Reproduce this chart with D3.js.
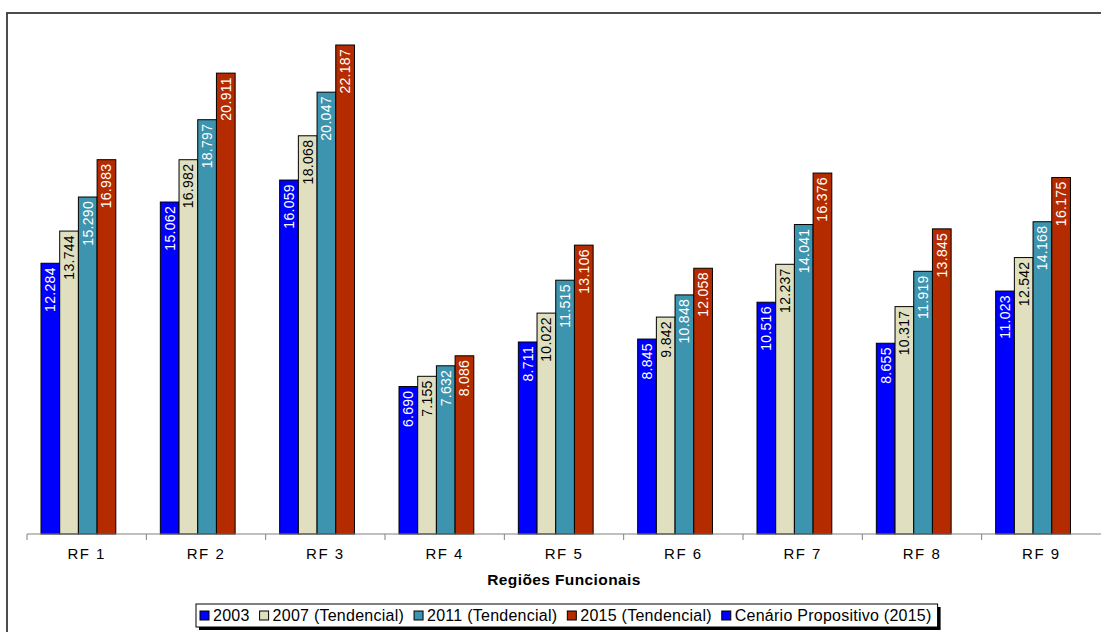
<!DOCTYPE html>
<html>
<head>
<meta charset="utf-8">
<script src="https://cdn.jsdelivr.net/npm/d3@7"></script>
<style>
  body { margin: 0; background: #fff; }
  svg { display: block; font-family: Arial, "Liberation Sans", sans-serif; }
</style>
</head>
<body>
<svg id="chart"></svg>
<script>
let w = 1101;
let h = 632;
let svg = d3.select("#chart");

let regions = ["RF 1", "RF 2", "RF 3", "RF 4", "RF 5", "RF 6", "RF 7", "RF 8", "RF 9"];
let seriesNames = ["2003", "2007 (Tendencial)", "2011 (Tendencial)", "2015 (Tendencial)", "Cenário Propositivo (2015)"];
let v2003 = [12.284, 15.062, 16.059, 6.690, 8.711, 8.845, 10.516, 8.655, 11.023];
let v2007 = [13.744, 16.982, 18.068, 7.155, 10.022, 9.842, 12.237, 10.317, 12.542];
let v2011 = [15.290, 18.797, 20.047, 7.632, 11.515, 10.848, 14.041, 11.919, 14.168];
let v2015 = [16.983, 20.911, 22.187, 8.086, 13.106, 12.058, 16.376, 13.845, 16.175];
let vCenario = [];  // no values in the picture
let colors = ["#0000ff", "#e0e0c0", "#3c94ae", "#b52b00", "#0000ff"];
let labelColors = ["#fff", "#000", "#fff", "#fff", "#fff"];

let seriesValues = [v2003, v2007, v2011, v2015, vCenario];

let values = [];
seriesValues.forEach((arr, s) => {
    arr.forEach((v, i) => values.push({ region: regions[i], series: seriesNames[s], s: s, value: v }));
});

let baseY = 534;
let x0, x1, yScale;

let drawCanvas = () => {
    svg.attr("width", w).attr("height", h);
    // outer frame (runs off the right and bottom edge)
    svg.append("rect")
       .attr("x", 7).attr("y", 13)
       .attr("width", w + 20).attr("height", h + 20)
       .attr("fill", "#fff")
       .attr("stroke", "#3a3a3a")
       .attr("stroke-width", 1.8);
}

let generateScales = () => {
    x0 = d3.scaleBand().domain(regions).range([27, w]);
    x1 = d3.scaleBand().domain(seriesNames).range([14, 14 + 5 * 18.7]);
    yScale = d3.scaleLinear().domain([0, 24]).range([baseY, baseY - 24 * 22.04]);
}

let drawBars = () => {
    let fmt = d3.format(".3f");
    let bars = svg.append("g");
    bars.selectAll("rect")
        .data(values)
        .enter()
        .append("rect")
        .attr("x", (d) => x0(d.region) + x1(d.series))
        .attr("y", (d) => yScale(d.value))
        .attr("width", x1.bandwidth())
        .attr("height", (d) => baseY - yScale(d.value))
        .attr("fill", (d) => colors[d.s])
        .attr("stroke", "#000")
        .attr("stroke-width", 1);

    bars.selectAll("text")
        .data(values)
        .enter()
        .append("text")
        .attr("transform", (d) => {
            let cx = x0(d.region) + x1(d.series) + x1.bandwidth() / 2;
            let ty = yScale(d.value) + 4;
            return `translate(${cx}, ${ty}) rotate(-90)`;
        })
        .attr("text-anchor", "end")
        .attr("dy", "0.36em")
        .attr("font-size", "14px")
        .attr("letter-spacing", "0.3px")
        .attr("fill", (d) => labelColors[d.s])
        .text((d) => fmt(d.value));
}

let drawAxis = () => {
    let xAxis = d3.axisBottom(x0).tickSize(0).tickPadding(14);
    let g = svg.append("g")
       .attr("transform", `translate(0, ${baseY})`)
       .call(xAxis);
    g.select(".domain").attr("stroke", "#808080").attr("d", `M27,0H${w}`);
    g.selectAll("text")
     .attr("font-size", "15px")
     .attr("letter-spacing", "1.5px")
     .attr("fill", "#000")
     .attr("font-family", null);

    // tick marks between categories
    let bounds = regions.map((r) => x0(r));
    g.selectAll(".sep")
     .data(bounds)
     .enter()
     .append("line")
     .attr("x1", (d) => d).attr("x2", (d) => d)
     .attr("y1", 0).attr("y2", 6)
     .attr("stroke", "#808080");

    svg.append("text")
       .attr("x", (27 + w) / 2)
       .attr("y", 585)
       .attr("text-anchor", "middle")
       .attr("font-size", "15.5px")
       .attr("font-weight", "bold")
       .attr("letter-spacing", "0.4px")
       .text("Regiões Funcionais");
}

let drawLegend = () => {
    let lg = svg.append("g");
    let shadow = lg.append("rect").attr("fill", "#000");
    let box = lg.append("rect").attr("fill", "#fff").attr("stroke", "#000").attr("stroke-width", 1);
    let xPos = 200;
    let yMid = 615.5;
    seriesNames.forEach((name, i) => {
        lg.append("rect")
          .attr("x", xPos).attr("y", yMid - 4.5)
          .attr("width", 9).attr("height", 9)
          .attr("fill", colors[i])
          .attr("stroke", "#000")
          .attr("stroke-width", 1);
        let t = lg.append("text")
          .attr("x", xPos + 13)
          .attr("y", yMid)
          .attr("dy", "0.36em")
          .attr("font-size", "16px")
          .attr("letter-spacing", "0.25px")
          .text(name);
        xPos += 13 + t.node().getComputedTextLength() + 10;
    });
    let x1b = xPos - 4;
    box.attr("x", 196).attr("y", 604).attr("width", x1b - 196).attr("height", 23);
    shadow.attr("x", 199).attr("y", 607).attr("width", x1b - 196).attr("height", 23);
}

drawCanvas();
generateScales();
drawBars();
drawAxis();
drawLegend();
</script>
</body>
</html>
